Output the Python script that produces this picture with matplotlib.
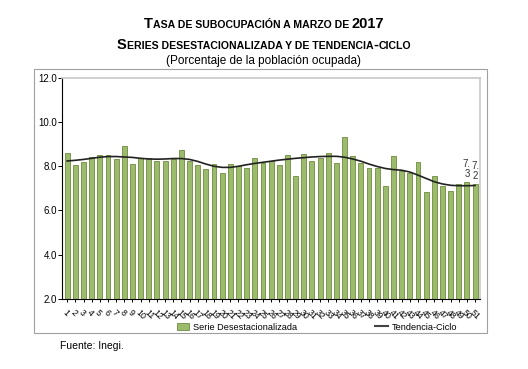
import matplotlib.pyplot as plt
from matplotlib.patches import Rectangle
from matplotlib.lines import Line2D

plt.rcParams['font.family'] = ['Liberation Sans', 'DejaVu Sans']

# datos
periodos = list(range(1, 52))
serie_desest = [8.62, 8.05, 8.18, 8.42, 8.51, 8.50, 8.33, 8.92, 8.09, 8.39,
                8.38, 8.23, 8.24, 8.33, 8.75, 8.24, 8.08, 7.86, 8.09, 7.70,
                8.09, 8.02, 7.92, 8.37, 8.15, 8.26, 8.05, 8.50, 7.58, 8.57,
                8.24, 8.38, 8.62, 8.15, 9.33, 8.45, 8.17, 7.94, 7.94, 7.10,
                8.48, 7.79, 7.71, 8.18, 6.84, 7.55, 7.11, 6.88, 7.19, 7.30,
                7.20]
tendencia = [8.24, 8.27, 8.31, 8.36, 8.41, 8.44, 8.44, 8.42, 8.40, 8.36,
             8.33, 8.32, 8.33, 8.35, 8.35, 8.31, 8.22, 8.10, 8.00, 7.95,
             7.95, 8.00, 8.07, 8.13, 8.18, 8.23, 8.28, 8.32, 8.36, 8.39,
             8.42, 8.44, 8.45, 8.45, 8.41, 8.33, 8.23, 8.10, 7.99, 7.90,
             7.85, 7.82, 7.74, 7.60, 7.45, 7.30, 7.20, 7.14, 7.12, 7.12,
             7.13]
etiquetas_finales = {50: '7.\n3', 51: '7.\n2'}

fig = plt.figure(figsize=(5.28, 3.69), dpi=100)
ax = fig.add_axes([0.118, 0.19, 0.791, 0.599])

# marco exterior
fig.patches.append(Rectangle((34 / 528, 1 - 333 / 369), (487 - 34) / 528, (333 - 69) / 369,
                             transform=fig.transFigure, fill=False, edgecolor='#a0a0a0', lw=0.8))

ax.bar(periodos, [v - 2 for v in serie_desest], bottom=2, width=0.6,
       color='#9dbb6c', edgecolor='#6e8c3e', linewidth=0.6, zorder=2)
ax.plot(periodos, tendencia, color='#222222', lw=1.2, zorder=3)

for k, txt in etiquetas_finales.items():
    ax.text(k, serie_desest[k - 1] + 0.12, txt, ha='center', va='bottom',
            fontsize=7, linespacing=1.0, color='#333333')

ax.set_xlim(0.4, 51.6)
ax.set_ylim(2, 12)
ax.set_yticks([2, 4, 6, 8, 10, 12])
ax.set_yticklabels(['2.0', '4.0', '6.0', '8.0', '10.0', '12.0'], fontsize=7)
ax.set_xticks(periodos)
ax.set_xticklabels([str(p) for p in periodos], fontsize=6.3, rotation=-45,
                   ha='left', va='top', rotation_mode='anchor')
ax.tick_params(axis='x', direction='inout', length=5, width=0.7, pad=4)
ax.tick_params(axis='y', direction='out', length=3, width=0.7, pad=1)
ax.spines['top'].set_color('#c8c8c8')
ax.spines['right'].set_color('#c8c8c8')
ax.spines['top'].set_linewidth(1.2)
ax.spines['right'].set_linewidth(1.2)
ax.spines['left'].set_linewidth(0.8)
ax.spines['bottom'].set_linewidth(0.8)

# leyenda
handles = [Rectangle((0, 0), 1, 1, facecolor='#9dbb6c', edgecolor='#6e8c3e', lw=0.6),
           Line2D([0], [0], color='#444444', lw=1.5)]
fig.legend(handles, ['Serie Desestacionalizada', 'Tendencia-Ciclo'],
           loc='center', bbox_to_anchor=(0.6, 1 - 327 / 369), ncol=2,
           frameon=False, fontsize=6.6, columnspacing=8.5, handlelength=1.4,
           handletextpad=0.4)


# titulos en versalitas
def versalitas(y, partes):
    textos = []
    for txt, tam in partes:
        textos.append(fig.text(0, y, txt, fontsize=tam, fontweight='bold',
                               ha='left', va='baseline'))
    fig.canvas.draw()
    r = fig.canvas.get_renderer()
    anchos = [t.get_window_extent(r).width for t in textos]
    x = (528 / 2 - sum(anchos) / 2)
    for t, w in zip(textos, anchos):
        t.set_x(x / 528)
        x += w


versalitas(1 - 28 / 369, [('T', 10.5), ('ASA DE SUBOCUPACIÓN A MARZO DE ', 7.6), ('2017', 10.5)])
versalitas(1 - 49 / 369, [('S', 10.5), ('ERIES DESESTACIONALIZADA Y DE TENDENCIA', 7.6),
                          ('-', 10.5), ('CICLO', 7.6)])
fig.text(0.5, 1 - 61 / 369, '(Porcentaje de la población ocupada)', ha='center',
         va='center', fontsize=8.5)
fig.text(60 / 528, 1 - 346 / 369, 'Fuente: Inegi.', ha='left', va='center', fontsize=7.5)

fig.savefig('out.png', dpi=100)
